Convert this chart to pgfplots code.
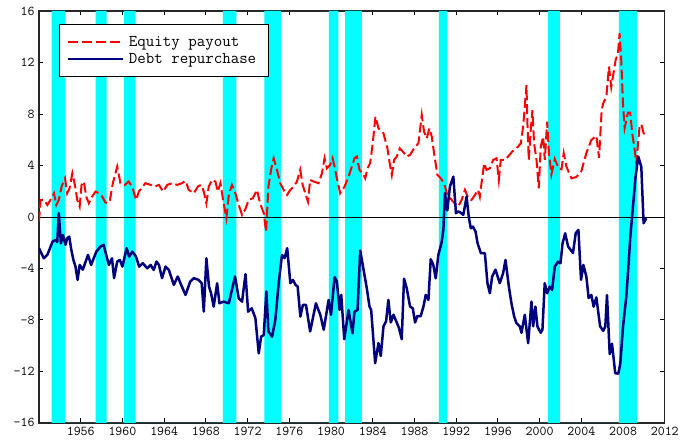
\documentclass[border=0pt]{standalone}
\usepackage{fontspec}
\usepackage{pgfplots}
\pgfplotsset{compat=1.18}
\definecolor{navyline}{RGB}{0,0,125}
\definecolor{bandcyan}{RGB}{0,255,255}
\begin{document}
\begin{tikzpicture}
\begin{axis}[
  scale only axis,
  width=626pt, height=412pt,
  xmin=1952, xmax=2012, ymin=-16, ymax=16,
  xtick={1956,1960,...,2012},
  ytick={-16,-12,...,16},
  /pgf/number format/1000 sep={},
  /pgf/number format/assume math mode=true,
  tick label style={font=\ttfamily\fontsize{13.5}{14}\selectfont, black},
  xticklabel style={yshift=-1pt},
  yticklabel style={xshift=-1pt},
  tick align=inside,
  major tick length=4.5pt,
  every tick/.style={black, line width=0.8pt},
  axis line style={line width=1.4pt, black!85},
  xtick pos=both, ytick pos=both,
  clip=true,
  legend style={at={(0.032,0.968)}, anchor=north west, draw=black, line width=0.7pt,
    font=\ttfamily\fontsize{16.5}{18}\selectfont,
    inner xsep=7pt, inner ysep=10pt, row sep=1pt,
    nodes={inner xsep=5pt, inner ysep=2pt}},
  legend cell align=left,
  legend image code/.code={\draw[#1] (0pt,0pt) -- (47pt,0pt); \path (0pt,0pt) -- (55pt,0pt);},
]
% recession bands
\addplot[fill=bandcyan, draw=none, forget plot] coordinates {
(1953.2,-16) (1953.2,16) (1954.5,16) (1954.5,-16)
(1957.43,-16) (1957.43,16) (1958.48,16) (1958.48,-16)
(1960.14,-16) (1960.14,16) (1961.26,16) (1961.26,-16)
(1969.62,-16) (1969.62,16) (1970.93,16) (1970.93,-16)
(1973.6,-16) (1973.6,16) (1975.2,16) (1975.2,-16)
(1979.8,-16) (1979.8,16) (1980.7,16) (1980.7,-16)
(1981.36,-16) (1981.36,16) (1982.96,16) (1982.96,-16)
(1990.34,-16) (1990.34,16) (1991.15,16) (1991.15,-16)
(2000.8,-16) (2000.8,16) (2001.94,16) (2001.94,-16)
(2007.6,-16) (2007.6,16) (2009.36,16) (2009.36,-16)
};
% zero line
\addplot[black, line width=0.6pt, forget plot] coordinates {(1952,0) (2012,0)};
% Equity payout
\addplot[red, line width=2pt, dash pattern=on 10pt off 4pt] coordinates {
(1952.0,-0.36) (1952.16,1.32) (1952.5,1.32) (1952.8,0.93) (1953.2,1.45) (1953.44,1.84)
(1953.66,0.93) (1953.9,1.32) (1954.17,2.36) (1954.5,3.0) (1954.7,1.84) (1954.93,2.23)
(1955.2,3.39) (1955.44,2.49) (1955.67,1.32) (1955.9,0.8) (1956.08,2.49) (1956.3,2.75)
(1956.53,1.58) (1956.78,1.06) (1957.1,1.58) (1957.42,1.97) (1957.74,1.84) (1958.06,1.58)
(1958.38,1.11) (1958.76,1.11) (1959.08,2.62) (1959.5,3.91) (1959.81,2.62) (1960.23,2.49)
(1960.6,2.75) (1960.93,2.36) (1961.31,1.32) (1961.57,1.97) (1961.9,2.3) (1962.2,2.62)
(1962.7,2.49) (1963.08,2.36) (1963.5,2.49) (1963.9,1.97) (1964.3,2.49) (1964.77,2.62)
(1965.25,2.49) (1965.7,2.62) (1966.05,2.8) (1966.36,2.1) (1966.85,1.84) (1967.23,2.36)
(1967.55,2.49) (1967.8,1.97) (1968.05,1.06) (1968.28,2.36) (1968.6,2.88) (1968.92,2.75)
(1969.14,1.97) (1969.4,2.62) (1969.65,1.32) (1969.97,-0.1) (1970.2,1.71) (1970.5,2.49)
(1970.83,1.84) (1971.15,0.93) (1971.47,0.16) (1971.79,0.6) (1972.1,1.32) (1972.5,1.45)
(1972.9,2.1) (1973.2,1.06) (1973.55,0.29) (1973.77,-1.14) (1974.0,2.36) (1974.28,3.78)
(1974.5,4.56) (1974.82,3.65) (1975.14,2.62) (1975.46,2.1) (1975.78,1.71) (1976.1,2.1)
(1976.42,2.36) (1976.73,2.75) (1977.05,3.65) (1977.28,2.49) (1977.53,1.84) (1977.79,1.19)
(1978.0,2.88) (1978.33,2.75) (1978.8,2.62) (1979.13,3.39) (1979.38,4.56) (1979.6,3.78)
(1979.92,4.04) (1980.15,4.56) (1980.34,3.91) (1980.56,3.0) (1980.88,1.84) (1981.3,2.36)
(1981.68,3.13) (1982.0,3.91) (1982.25,4.56) (1982.48,4.69) (1982.73,3.65) (1983.05,3.39)
(1983.28,3.0) (1983.5,3.78) (1983.75,4.17) (1984.0,5.72) (1984.26,7.79) (1984.55,6.88)
(1985.03,6.5) (1985.41,5.33) (1985.6,4.3) (1985.83,3.26) (1986.05,4.43) (1986.3,4.69)
(1986.6,5.33) (1986.88,5.08) (1987.26,4.69) (1987.58,4.82) (1987.96,5.33) (1988.38,5.72)
(1988.7,7.92) (1988.92,6.63) (1989.18,6.1) (1989.43,6.88) (1989.66,6.24) (1989.88,4.95)
(1990.2,3.26) (1990.52,3.0) (1990.84,2.62) (1991.15,1.71) (1991.57,1.32) (1991.98,0.93)
(1992.2,0.8) (1992.52,1.32) (1992.84,2.1) (1993.16,1.45) (1993.47,1.32) (1993.8,1.71)
(1994.11,2.1) (1994.27,1.58) (1994.43,2.62) (1994.69,4.17) (1994.91,3.65) (1995.23,3.78)
(1995.55,4.43) (1995.87,4.56) (1996.09,2.88) (1996.28,4.43) (1996.66,4.43) (1996.98,4.69)
(1997.37,5.08) (1997.78,5.33) (1998.2,5.72) (1998.42,7.0) (1998.58,8.57) (1998.74,10.25)
(1998.83,7.3) (1998.96,4.43) (1999.15,6.76) (1999.31,8.3) (1999.47,5.72) (1999.7,4.43)
(1999.92,2.23) (2000.11,5.46) (2000.33,6.24) (2000.5,4.43) (2000.72,7.4) (2000.9,4.95)
(2001.13,3.3) (2001.45,4.5) (2001.83,3.78) (2002.1,3.7) (2002.31,4.95) (2002.57,3.91)
(2003.05,3.0) (2003.52,3.1) (2004.0,3.55) (2004.48,4.95) (2004.96,5.98) (2005.44,6.3)
(2005.7,4.6) (2005.95,8.3) (2006.1,8.83) (2006.4,9.35) (2006.65,11.68) (2006.87,10.1)
(2007.03,10.9) (2007.29,12.2) (2007.51,12.7) (2007.67,14.27) (2007.83,12.2) (2007.99,8.83)
(2008.15,6.9) (2008.47,8.1) (2008.69,8.1) (2008.88,6.5) (2009.1,5.3) (2009.27,4.17)
(2009.58,7.0) (2009.75,7.2) (2009.97,6.5) (2010.23,6.37)
};
\addlegendentry{Equity payout}
% Debt repurchase
\addplot[navyline, line width=2.5pt, line join=round] coordinates {
(1952.0,-2.43) (1952.46,-3.21) (1952.8,-2.95) (1953.3,-1.92) (1953.6,-1.79) (1953.75,-1.95)
(1953.9,0.29) (1954.1,-2.05) (1954.3,-1.4) (1954.55,-2.17) (1954.7,-1.66) (1954.9,-1.53)
(1955.1,-2.56) (1955.3,-3.34) (1955.5,-3.86) (1955.7,-4.89) (1955.9,-3.73) (1956.2,-4.1)
(1956.7,-2.95) (1957.0,-3.73) (1957.5,-2.69) (1957.9,-2.3) (1958.2,-2.17) (1958.4,-2.82)
(1958.7,-3.73) (1959.0,-3.21) (1959.2,-4.76) (1959.5,-3.47) (1959.75,-3.34) (1960.0,-3.86)
(1960.4,-2.43) (1960.65,-3.08) (1960.95,-2.69) (1961.3,-3.08) (1961.6,-3.86) (1961.95,-3.6)
(1962.38,-3.99) (1962.7,-3.73) (1963.0,-4.12) (1963.27,-3.47) (1963.5,-3.73) (1963.8,-4.76)
(1964.13,-3.86) (1964.45,-4.12) (1964.93,-5.28) (1965.3,-4.63) (1965.7,-5.41) (1966.05,-6.06)
(1966.5,-5.02) (1966.85,-4.76) (1967.3,-4.89) (1967.6,-5.15) (1967.8,-7.35) (1968.05,-3.21)
(1968.3,-5.41) (1968.5,-5.93) (1968.75,-6.97) (1969.08,-5.15) (1969.3,-6.71) (1969.7,-6.58)
(1970.2,-6.71) (1970.8,-4.63) (1971.15,-6.32) (1971.47,-6.58) (1971.8,-4.45) (1972.05,-7.36)
(1972.4,-7.1) (1972.75,-7.87) (1973.07,-10.6) (1973.3,-9.3) (1973.55,-9.17) (1973.8,-5.8)
(1974.0,-8.9) (1974.35,-9.3) (1974.66,-8.0) (1974.98,-5.15) (1975.3,-2.95) (1975.55,-3.2)
(1975.8,-2.43) (1976.1,-5.15) (1976.35,-4.9) (1976.6,-5.28) (1976.8,-5.4) (1977.06,-7.74)
(1977.3,-6.84) (1977.6,-6.84) (1978.0,-8.9) (1978.55,-6.71) (1978.97,-7.6) (1979.3,-8.77)
(1979.77,-6.45) (1980.0,-7.6) (1980.34,-4.68) (1980.56,-5.0) (1980.82,-7.23) (1980.98,-6.06)
(1981.27,-9.5) (1981.68,-7.23) (1982.06,-9.04) (1982.25,-7.36) (1982.54,-7.23) (1982.8,-2.61)
(1983.43,-5.54) (1983.69,-6.97) (1983.85,-7.23) (1984.23,-11.36) (1984.55,-9.8) (1984.77,-10.8)
(1985.03,-8.5) (1985.28,-8.1) (1985.5,-6.45) (1985.73,-8.2) (1985.99,-7.6) (1986.3,-8.2)
(1986.5,-8.6) (1986.78,-9.5) (1987.0,-4.8) (1987.26,-5.54) (1987.58,-6.97) (1987.84,-7.1)
(1988.06,-8.2) (1988.28,-7.7) (1988.6,-7.7) (1988.86,-6.97) (1989.08,-6.06) (1989.34,-6.45)
(1989.56,-3.29) (1989.8,-3.7) (1990.04,-4.77) (1990.29,-2.95) (1990.6,-2.0) (1990.77,-1.0)
(1990.93,1.84) (1991.15,0.5) (1991.4,2.36) (1991.73,3.13) (1991.98,0.29) (1992.2,0.42)
(1992.4,0.35) (1992.68,0.16) (1993.0,1.58) (1993.2,0.03) (1993.4,-0.88) (1993.6,-0.75)
(1993.86,-1.14) (1994.05,-2.04) (1994.37,-2.82) (1994.75,-2.82) (1995.0,-5.15) (1995.23,-5.93)
(1995.45,-4.63) (1995.77,-4.1) (1996.18,-5.15) (1996.5,-4.37) (1996.73,-3.34) (1997.05,-5.41)
(1997.3,-6.71) (1997.56,-7.74) (1997.78,-8.25) (1998.1,-8.5) (1998.26,-9.0) (1998.58,-7.6)
(1998.9,-9.81) (1999.22,-6.58) (1999.38,-8.5) (1999.6,-6.97) (1999.79,-8.5) (2000.1,-9.0)
(2000.27,-8.77) (2000.49,-5.15) (2000.72,-5.93) (2000.97,-5.41) (2001.2,-5.67) (2001.45,-3.86)
(2001.77,-3.47) (2002.0,-3.6) (2002.2,-2.05) (2002.45,-1.27) (2002.73,-2.3) (2003.2,-2.8)
(2003.46,-1.27) (2003.72,-1.0) (2003.97,-4.89) (2004.2,-3.73) (2004.48,-4.63) (2004.7,-6.3)
(2004.96,-6.06) (2005.18,-6.97) (2005.44,-6.25) (2005.8,-8.5) (2006.1,-8.85) (2006.3,-8.5)
(2006.46,-6.08) (2006.72,-10.65) (2006.94,-9.85) (2007.25,-12.14) (2007.55,-12.17) (2007.74,-11.36)
(2008.0,-8.5) (2008.31,-6.2) (2008.5,-4.0) (2008.7,-1.5) (2008.95,0.8) (2009.2,3.13)
(2009.46,4.68) (2009.75,3.9) (2009.97,-0.49) (2010.23,-0.1)
};
\addlegendentry{Debt repurchase}
\end{axis}
\path (-39pt,-17pt) rectangle (643pt,423pt);
\end{tikzpicture}
\end{document}
